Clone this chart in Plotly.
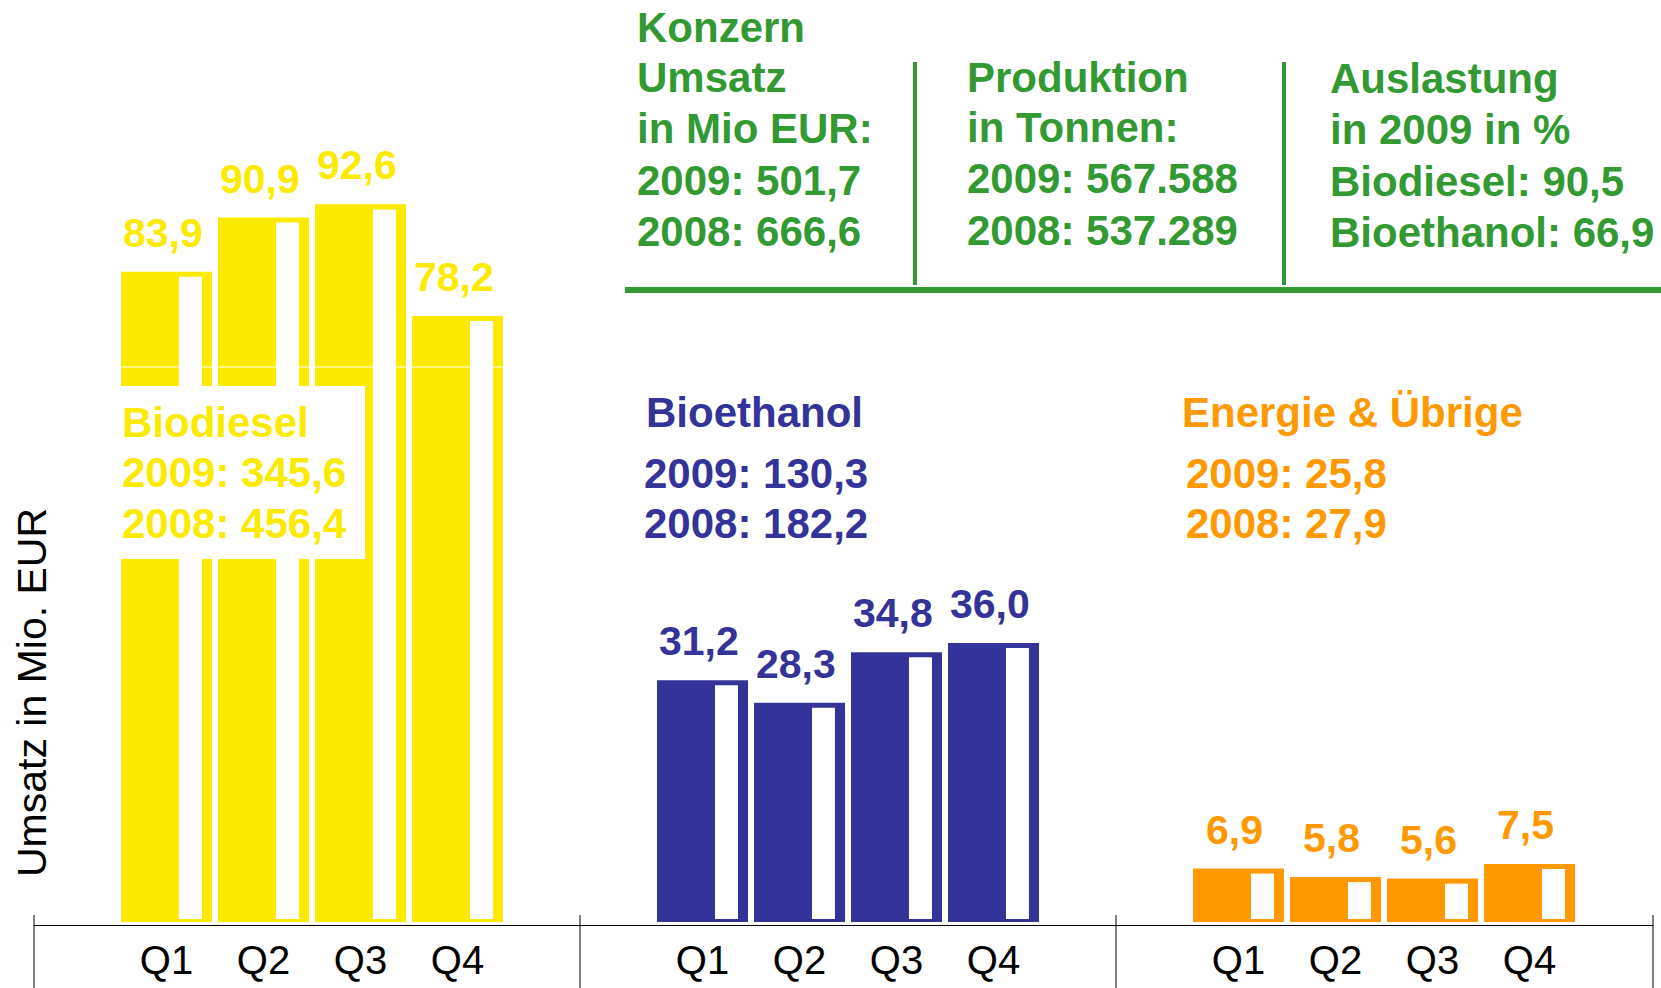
import plotly.graph_objects as go

# ---------------- data ----------------
quarters = ["Q1", "Q2", "Q3", "Q4"]
segments = ["Biodiesel", "Bioethanol", "Energie & Übrige"]
biodiesel = [83.9, 90.9, 92.6, 78.2]
bioethanol = [31.2, 28.3, 34.8, 36.0]
energie = [6.9, 5.8, 5.6, 7.5]
segment_values = [biodiesel, bioethanol, energie]
segment_total_2009 = [345.6, 130.3, 25.8]
segment_total_2008 = [456.4, 182.2, 27.9]
konzern_umsatz_2009 = 501.7
konzern_umsatz_2008 = 666.6
produktion_2009 = 567588
produktion_2008 = 537289
auslastung_biodiesel = 90.5
auslastung_bioethanol = 66.9
y_title = "Umsatz in Mio. EUR"

# ---------------- styles ----------------
colors = ["#FAEB00", "#333399", "#FF9900"]
GREEN = "#339933"
FONT = "Liberation Sans, Arial, sans-serif"
W, H = 1661, 988
L, R, T, B = 34, 8, 0, 63
PW, PH = W - L - R, H - T - B
GROUP_STEP = 5.526
BAR_W = 0.938
INNER_W = 0.237
INNER_SHIFT = 0.247
TOP_INSET = 0.65
BASE_INSET = 0.39
X0, X1 = -1.366, 15.325
Y0, Y1 = -0.387, 118.97


def de(v, d=1):
    return f"{v:.{d}f}".replace(".", ",")


def de_int(v):
    return f"{v:,}".replace(",", ".")


def px(xp):
    return (xp - L) / PW


def py(yp):
    return (T + PH - yp) / PH


fig = go.Figure()
annotations = []
shapes = []

tickvals, ticktext = [], []
for g, vals in enumerate(segment_values):
    pos = [g * GROUP_STEP + i for i in range(len(vals))]
    fig.add_trace(go.Bar(x=pos, y=vals, width=BAR_W, marker=dict(color=colors[g], line=dict(width=0)),
                         hoverinfo="skip", showlegend=False))
    fig.add_trace(go.Bar(x=[p + INNER_SHIFT for p in pos], y=[v - TOP_INSET - BASE_INSET for v in vals],
                         base=[BASE_INSET] * len(vals), width=INNER_W,
                         marker=dict(color="white", line=dict(width=0)),
                         hoverinfo="skip", showlegend=False))
    for p, v in zip(pos, vals):
        annotations.append(dict(x=p - 0.04, y=v, xref="x", yref="y", text=f"<b>{de(v)}</b>", showarrow=False,
                                yanchor="bottom", xanchor="center", yshift=14,
                                font=dict(family=FONT, size=41, color=colors[g])))
    tickvals += pos
    ticktext += quarters

# group dividers below the axis
mids = [(3 + GROUP_STEP) / 2, GROUP_STEP + (3 + GROUP_STEP) / 2]
for m in mids:
    shapes.append(dict(type="line", xref="x", yref="paper", x0=m, x1=m, y0=py(915), y1=py(988),
                       line=dict(color="black", width=1)))
for xe in [0, 1]:
    shapes.append(dict(type="line", xref="paper", yref="paper", x0=xe, x1=xe, y0=py(915), y1=py(988),
                       line=dict(color="black", width=1)))

# white box behind Biodiesel label
shapes.append(dict(type="rect", xref="paper", yref="paper", x0=px(112), x1=px(365), y0=py(559), y1=py(386),
                   fillcolor="white", line=dict(width=0), layer="above"))
shapes.append(dict(type="line", xref="paper", yref="paper", x0=px(121), x1=px(505), y0=py(367), y1=py(367),
                   line=dict(color="white", width=1), layer="above"))


def text_line(txt, xl, baseline, color, size=42, bold=True):
    t = f"<b>{txt}</b>" if bold else txt
    annotations.append(dict(x=px(xl - 2), y=py(baseline + 0.212 * size + 2), xref="paper", yref="paper",
                            text=t, showarrow=False, xanchor="left", yanchor="bottom",
                            font=dict(family=FONT, size=size, color=color)))


# segment labels
seg_layout = [(122, 122, [437, 487, 538]), (646, 644, [427, 488, 538]), (1182, 1186, [427, 488, 538])]
for g, (xt, xv, bl) in enumerate(seg_layout):
    text_line(segments[g], xt, bl[0], colors[g])
    text_line(f"2009: {de(segment_total_2009[g])}", xv, bl[1], colors[g])
    text_line(f"2008: {de(segment_total_2008[g])}", xv, bl[2], colors[g])

# Konzern block
col1 = ["Konzern", "Umsatz", "in Mio EUR:", f"2009: {de(konzern_umsatz_2009)}", f"2008: {de(konzern_umsatz_2008)}"]
for txt, bl in zip(col1, [42, 92, 143, 195, 246]):
    text_line(txt, 637, bl, GREEN)
col2 = ["Produktion", "in Tonnen:", f"2009: {de_int(produktion_2009)}", f"2008: {de_int(produktion_2008)}"]
for txt, bl in zip(col2, [92, 142, 193, 245]):
    text_line(txt, 967, bl, GREEN)
col3 = ["Auslastung", "in 2009 in %", f"Biodiesel: {de(auslastung_biodiesel)}",
        f"Bioethanol: {de(auslastung_bioethanol)}"]
for txt, bl in zip(col3, [93, 144, 196, 247]):
    text_line(txt, 1330, bl, GREEN)

for xv in [915, 1284]:
    shapes.append(dict(type="line", xref="paper", yref="paper", x0=px(xv), x1=px(xv), y0=py(62), y1=py(285),
                       line=dict(color=GREEN, width=4)))
shapes.append(dict(type="line", xref="paper", yref="paper", x0=px(625), x1=px(1665), y0=py(290), y1=py(290),
                   line=dict(color=GREEN, width=6)))

# y axis title
annotations.append(dict(x=px(32), y=py(693), xref="paper", yref="paper", text=y_title, showarrow=False,
                        textangle=-90, xanchor="center", yanchor="middle",
                        font=dict(family=FONT, size=41, color="black")))

fig.update_layout(
    width=W, height=H, margin=dict(l=L, r=R, t=T, b=B),
    paper_bgcolor="white", plot_bgcolor="white",
    barmode="overlay", showlegend=False,
    xaxis=dict(range=[X0, X1], tickvals=tickvals, ticktext=ticktext, showgrid=False, zeroline=False,
               showline=True, linecolor="black", linewidth=1, ticks="",
               tickfont=dict(family=FONT, size=40, color="black")),
    yaxis=dict(range=[Y0, Y1], visible=False, showgrid=False, zeroline=False),
    annotations=annotations, shapes=shapes,
)

fig.write_html("out.html", config={"displayModeBar": False},
               post_script="document.body.style.margin='0';")
